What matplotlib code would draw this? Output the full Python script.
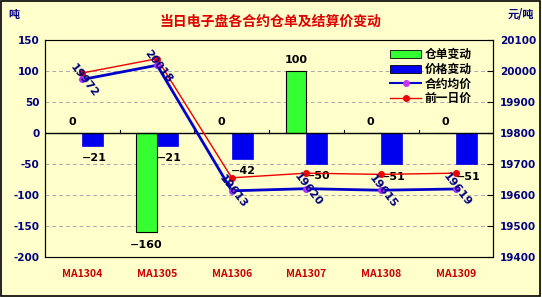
import numpy as np
import matplotlib.pyplot as plt
from matplotlib.patches import Rectangle
from matplotlib.lines import Line2D
from matplotlib.patches import Patch

plt.rcParams['font.family'] = ['Noto Sans CJK SC', 'DejaVu Sans']
plt.rcParams['axes.unicode_minus'] = False

contracts = ['MA1304', 'MA1305', 'MA1306', 'MA1307', 'MA1308', 'MA1309']
stock_change = [0, -160, 0, 100, 0, 0]          # 仓单变动 (吨)
price_change = [-21, -21, -42, -50, -51, -51]   # 价格变动
avg_price = [19972, 20018, 19613, 19620, 19615, 19619]   # 合约均价
prev_price = [19993, 20039, 19655, 19670, 19666, 19670]  # 前一日价

bg = '#FFFFCC'
navy = '#000080'

fig = plt.figure(figsize=(5.42, 2.97), dpi=100, facecolor=bg)
ax = fig.add_axes([0.083, 0.135, 0.827, 0.731], facecolor=bg)
ax2 = ax.twinx()

x = np.arange(len(contracts))
w = 0.28
ax.bar(x - w / 2, stock_change, w, color='#33FF33', edgecolor='black', linewidth=0.8, zorder=3)
ax.bar(x + w / 2, price_change, w, color='#0000EE', edgecolor='#0000EE', linewidth=0.5, zorder=3)

for i in range(len(x)):
    v = stock_change[i]
    off = 8 if v >= 0 else -9
    ax.annotate(str(v).replace('-', '\u2212'), (x[i] - w / 2, v), xytext=(0, off),
                textcoords='offset points', ha='center', va='center',
                fontsize=8, fontweight='bold', color='black', family='DejaVu Sans', zorder=6)
    v = price_change[i]
    ax.annotate(str(v).replace('-', '\u2212'), (x[i] + w / 2 + 0.02, v), xytext=(0, -9),
                textcoords='offset points', ha='center', va='center',
                fontsize=8, fontweight='bold', color='black', family='DejaVu Sans', zorder=6)

ax.set_ylim(-200, 150)
ax.set_yticks(np.arange(-200, 151, 50))
ax.set_xlim(-0.5, len(x) - 0.5)
ax.axhline(0, color='black', linewidth=1, zorder=4)
for yv in [-150, -100, -50, 50, 100]:
    ax.axhline(yv, color='#AAAAAA', linewidth=0.7, linestyle=(0, (4, 3)), zorder=1)

ax.set_xticks(x)
ax.set_xticklabels(contracts, color='#CC0000', fontweight='bold', fontsize=7.5)
ax.tick_params(axis='x', length=0, pad=9)
for b in np.arange(0.5, len(x) - 0.5, 1):
    ax.plot([b, b], [0, 5], color='black', linewidth=0.8, zorder=4)

ax2.plot(x, prev_price, color='#EE0000', linewidth=1, marker='o', markersize=4,
         markerfacecolor='#EE0000', markeredgecolor='#EE0000', zorder=5)
ax2.plot(x, avg_price, color='#0000CC', linewidth=2, marker='o', markersize=4,
         markerfacecolor='#CC33FF', markeredgecolor='#9933FF', zorder=5)
for i in range(len(x)):
    ax2.text(x[i] + 0.02, avg_price[i] - 3, str(avg_price[i]), rotation=-52,
             ha='center', va='center', fontsize=8, fontweight='bold', color=navy,
             family='DejaVu Sans', zorder=7)
ax2.set_ylim(19400, 20100)
ax2.set_yticks(np.arange(19400, 20101, 100))

for a in (ax, ax2):
    a.tick_params(axis='y', labelsize=7.5, labelcolor=navy, width=0.8)
    for lab in a.get_yticklabels():
        lab.set_fontweight('bold')
        lab.set_family('DejaVu Sans')
    for s in a.spines.values():
        s.set_color('black')
        s.set_linewidth(0.8)
ax.spines['top'].set_color('#888888')
ax.spines['bottom'].set_color('#888888')
ax.tick_params(axis='y', direction='out', length=0, pad=4)
ax2.tick_params(axis='y', direction='in', length=4, pad=5)

handles = [Patch(facecolor='#33FF33', edgecolor='black', linewidth=0.6),
           Patch(facecolor='#0000EE', edgecolor='black', linewidth=0.6),
           Line2D([], [], color='#0000CC', linewidth=1.5, marker='o', markersize=4,
                  markerfacecolor='#CC33FF', markeredgecolor='#CC33FF'),
           Line2D([], [], color='#EE0000', linewidth=1, marker='o', markersize=4,
                  markerfacecolor='#EE0000', markeredgecolor='#EE0000')]
leg = ax2.legend(handles, ['仓单变动', '价格变动', '合约均价', '前一日价'],
                 loc='upper right', bbox_to_anchor=(0.97, 1.0), frameon=False,
                 fontsize=8.5, handlelength=2.6, handleheight=0.7, labelspacing=0.15,
                 borderpad=0.2, handletextpad=0.3)
for t in leg.get_texts():
    t.set_fontweight('bold')

fig.text(0.5, 0.926, '当日电子盘各合约仓单及结算价变动', ha='center', va='center',
         fontsize=10, fontweight='bold', color='#DD0000')
fig.text(0.016, 0.95, '吨', ha='left', va='center', fontsize=8, fontweight='bold', color=navy)
fig.text(0.985, 0.95, '元/吨', ha='right', va='center', fontsize=8, fontweight='bold', color=navy)

fig.patches.append(Rectangle((0.002, 0.003), 0.995, 0.994, transform=fig.transFigure,
                             fill=False, edgecolor='black', linewidth=1.2))

fig.savefig('out.png', dpi=100, facecolor=bg)
